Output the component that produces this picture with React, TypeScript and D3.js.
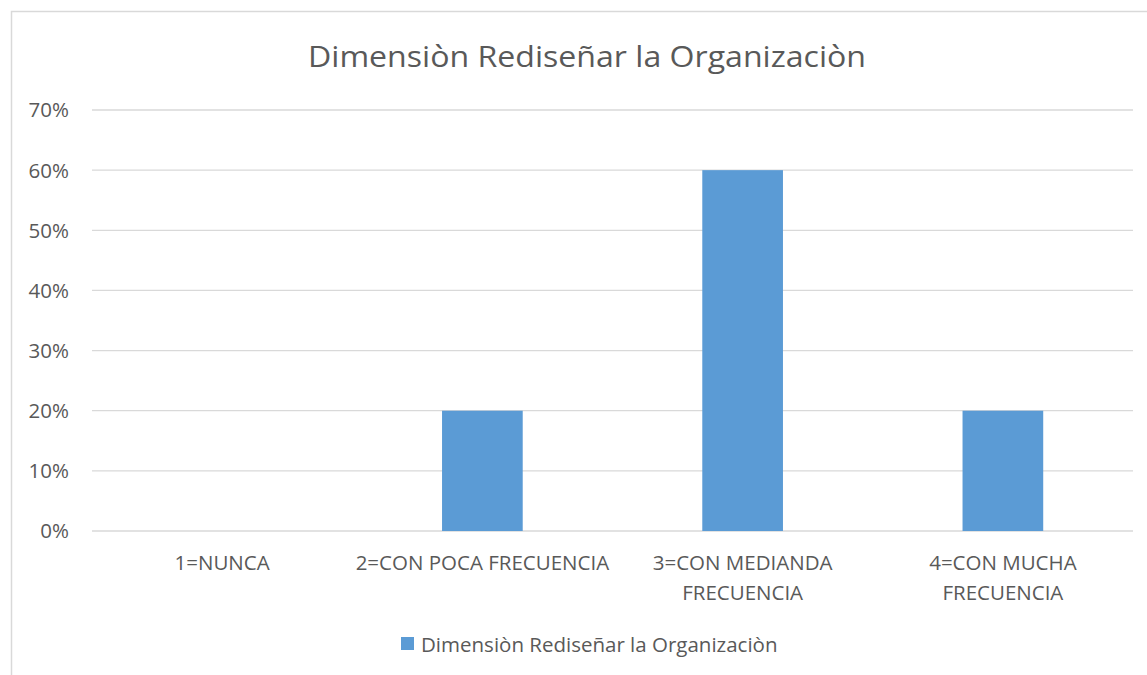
import * as d3 from "d3";
import React, { useEffect } from "react";

const categories = [
  ["1=NUNCA"],
  ["2=CON POCA FRECUENCIA"],
  ["3=CON MEDIANDA", "FRECUENCIA"],
  ["4=CON MUCHA", "FRECUENCIA"],
];
const values = [0, 0.2, 0.6, 0.2];
const yTicks = [0, 0.1, 0.2, 0.3, 0.4, 0.5, 0.6, 0.7];
const title = "Dimensiòn Rediseñar la Organizaciòn";
const seriesName = "Dimensiòn Rediseñar la Organizaciòn";

const width = 1147;
const height = 675;
const margin = { top: 110, right: 14, bottom: 144, left: 92 };
const font = "'Open Sans', sans-serif";
const textColor = "#595959";
const barColor = "#5b9bd5";
const labelSize = 20.5;

export default function App() {
  useEffect(() => {
    document.body.style.margin = "0";
    document.body.style.overflow = "hidden";
  }, []);

  const innerW = width - margin.left - margin.right;
  const innerH = height - margin.top - margin.bottom;

  const x = d3
    .scaleBand()
    .domain(categories.map((c, i) => String(i)))
    .range([0, innerW])
    .padding(0);
  const barW = x.bandwidth() * 0.31;

  const y = d3.scaleLinear().domain([0, 0.7]).range([innerH, 0]);
  const fmt = d3.format(".0%");

  return (
    <svg
      width={width}
      height={height}
      style={{ display: "block", background: "#fff" }}
      fontFamily={font}
    >
      <path d={`M11.5,${height}V11.5H${width}`} fill="none" stroke="#d9d9d9" strokeWidth={1.5} />
      <text x={587} y={67} textAnchor="middle" fontSize={28.5} fill={textColor} textLength={558} lengthAdjust="spacingAndGlyphs">
        {title}
      </text>
      <g transform={`translate(${margin.left},${margin.top})`}>
        {yTicks.map((t) => (
          <g key={t}>
            <line x1={0} x2={innerW} y1={y(t)} y2={y(t)} stroke="#d9d9d9" strokeWidth={1.3} />
            <text x={-23} y={y(t)} dy="0.36em" textAnchor="end" fontSize={labelSize} fill={textColor}>
              {fmt(t)}
            </text>
          </g>
        ))}
        {values.map((v, i) =>
          v > 0 ? (
            <rect
              key={i}
              x={x(String(i))! + x.bandwidth() / 2 - barW / 2}
              y={y(v)}
              width={barW}
              height={innerH - y(v)}
              fill={barColor}
            />
          ) : null
        )}
        {categories.map((lines, i) => (
          <text
            key={i}
            x={x(String(i))! + x.bandwidth() / 2}
            y={innerH + 39}
            textAnchor="middle"
            fontSize={labelSize}
            fill={textColor}
          >
            {lines.map((l, j) => (
              <tspan key={j} x={x(String(i))! + x.bandwidth() / 2} dy={j === 0 ? 0 : 30}>
                {l}
              </tspan>
            ))}
          </text>
        ))}
      </g>
      <rect x={401} y={637} width={13} height={13} fill={barColor} />
      <text x={421} y={652} fontSize={labelSize} fill={textColor}>
        {seriesName}
      </text>
    </svg>
  );
}
